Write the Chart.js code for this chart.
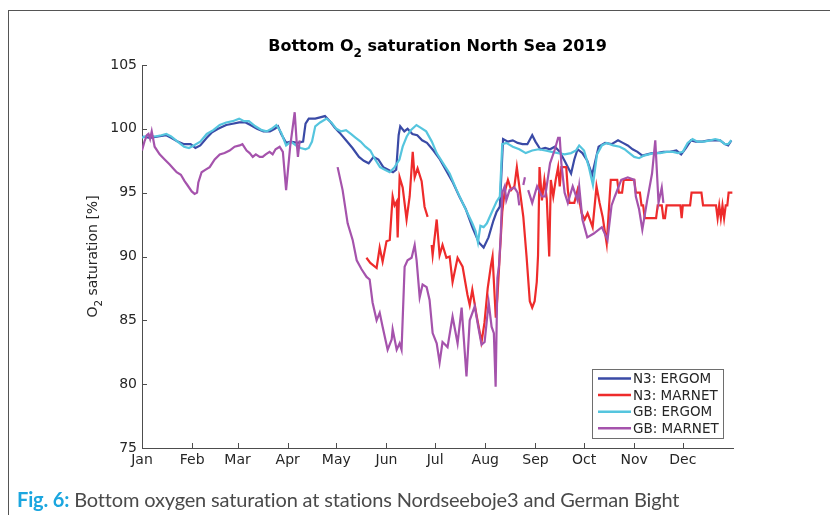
<!DOCTYPE html>
<html>
<head>
<meta charset="utf-8">
<script src="https://cdn.jsdelivr.net/npm/chart.js@4.4.1/dist/chart.umd.min.js"></script>
<style>
  html, body { margin: 0; padding: 0; background: #fff; }
  #wrap { position: relative; width: 830px; height: 515px; overflow: hidden; }
  #frame { position: absolute; left: 8px; top: 10px; width: 900px; height: 600px;
           border-left: 1.5px solid #555; border-top: 1.5px solid #555; }
  #chart { position: absolute; left: 0; top: 0; }
  #caption { position: absolute; left: 17px; top: 487px; font-family: "Lato", sans-serif;
             font-size: 20px; letter-spacing: -0.16px; color: #4a4a4a; white-space: nowrap; }
  #caption b { color: #1ba6df; font-weight: bold; }
</style>
</head>
<body>
<div id="wrap">
  <div id="frame"></div>
  <canvas id="chart" width="830" height="515"></canvas>
  <div id="caption"><b>Fig. 6:</b> Bottom oxygen saturation at stations Nordseeboje3 and German Bight</div>
</div>
<script>
// Month boundaries (day of year, 2019) and their axis labels
const monthStarts = [0, 31, 59, 90, 120, 151, 181, 212, 243, 273, 304, 334];
const monthLabels = ['Jan', 'Feb', 'Mar', 'Apr', 'May', 'Jun', 'Jul', 'Aug', 'Sep', 'Oct', 'Nov', 'Dec'];
const yTicks = [75, 80, 85, 90, 95, 100, 105];

// Bottom O2 saturation [%] as [day of year, value]; null marks a data gap
const n3Ergom = [
  [0,99.4],[5,99.3],[10,99.4],[15,99.5],[18,99.3],[22,99.0],[26,98.8],[30,98.8],[33,98.5],[36,98.7],
  [40,99.3],[43,99.7],[47,100.0],[52,100.3],[56,100.4],[60,100.5],[64,100.5],[67,100.3],[71,100.0],
  [75,99.8],[79,99.8],[82,100.0],[84,100.2],[86,99.6],[89,98.9],[92,99.0],[96,98.9],[99.5,99.0],
  [101,100.4],[103,100.8],[107,100.8],[110,100.9],[113,101.0],[116,100.6],[119,100.1],[122,99.7],
  [126,99.1],[130,98.5],[134,97.8],[137,97.5],[140,97.3],[143,97.8],[146,97.6],[149,97.0],[152,96.8],
  [155,96.6],[157,96.8],[158.5,99.5],[159.5,100.2],[162,99.8],[164,100.0],[167,99.6],[170,99.5],
  [173,99.1],[176,98.9],[180,98.3],[184,97.6],[188,96.7],[192,95.8],[196,94.7],[200,93.7],[204,92.3],
  [208,91.1],[211,90.7],[214,91.5],[217,92.8],[219,93.5],[221,93.9],[223,99.2],[226,99.0],[229,99.1],
  [232,98.9],[235,98.8],[238,98.8],[241,99.5],[243,99.0],[246,98.4],[249,98.5],[252,98.4],[255,98.6],
  [258,98.2],[261,97.5],[265,96.5],[267,97.6],[269,98.4],[272,98.1],[275,97.5],[278,96.4],[280,97.5],
  [282,98.6],[286,98.9],[290,98.8],[294,99.1],[297,98.9],[300,98.7],[303,98.4],[306,98.2],[309,97.9],
  [312,98.0],[315,98.1],[318,98.1],[322,98.2],[326,98.2],[330,98.3],[333,98.0],[336,98.5],[339,99.1],
  [342,99.0],[346,99.0],[350,99.1],[354,99.1],[357,99.1],[360,98.8],[362,98.7],[364,99.1]
];

const n3Marnet = [
  [138.6,89.9],[141,89.5],[144.9,89.1],[146.8,90.7],[148.6,89.6],[151,91.2],[153,91.3],[154.8,94.7],
  [156,94.0],[157.3,94.3],[157.9,91.5],[159.1,96.2],[161,95.4],[163.4,92.9],[165.3,94.7],[167.2,98.2],
  [168.4,96.2],[170.2,96.9],[172.7,95.9],[174.5,93.9],[176.4,93.1],[177.5,null],
  [178.9,90.9],[179.5,90.1],[182,92.9],[183.8,90.1],[185.6,90.9],[188,89.9],[190,90.0],[191.8,88.0],
  [194.9,89.9],[198,89.2],[201,87.0],[202.4,86.2],[204,87.4],[206.6,85.4],[209.7,83.3],[211.5,84.8],
  [213.5,87.5],[215.5,89.3],[216.5,90.0],[218.5,85.2],[219.5,86.8],[220.9,90.0],[222.5,93.5],[223.9,95.0],
  [226,96.0],[228,95.2],[230,95.5],[231.5,97.0],[232.5,96.0],[235.5,93.1],[237.5,90.0],[239.5,86.5],
  [241,86.0],[242.5,86.5],[243.8,88.0],[244.6,90.1],[245.5,97.0],[247,94.4],[248.5,96.0],[250,94.5],
  [251.5,90.0],[252.5,96.0],[254,94.7],[255.5,96.0],[257,97.0],[258,95.5],[259,97.0],[262,97.0],
  [263,95.2],[264,94.2],[267,94.2],[269,95.2],[271.5,93.4],[273.4,92.9],[275.2,93.4],[278.3,92.3],
  [280.7,95.5],[282.6,94.2],[284.5,93.1],[287,91.0],[289.5,96.0],[293.5,96.0],[294.5,95.0],[296.5,95.0],
  [297.5,96.0],[304,96.0],[305,95.0],[307.5,95.0],[308.5,94.0],[309.5,94.0],[310.5,93.0],[317.5,93.0],
  [318.5,94.0],[321,94.0],[322,93.0],[323,93.0],[324,94.0],[332.5,94.0],[333.3,93.0],[334,94.0],
  [338.5,94.0],[339.4,95.0],[345.5,95.0],[346.5,94.0],[354.5,94.0],[355.5,93.0],[356.5,94.0],
  [357.5,93.0],[358.5,94.0],[359.5,93.0],[360.5,94.0],[361.5,94.0],[362.3,95.0],[364.6,95.0]
];

const gbErgom = [
  [0,99.3],[4,99.5],[8,99.4],[12,99.5],[15,99.6],[18,99.4],[22,99.0],[26,98.6],[29,98.5],[32,98.7],
  [36,99.0],[40,99.6],[44,99.9],[48,100.3],[52,100.5],[56,100.6],[60,100.8],[63,100.6],[66,100.6],
  [70,100.2],[74,99.9],[77,99.8],[80,100.0],[83,100.3],[86,99.7],[89,98.7],[92,99.0],[95,98.7],
  [98,98.5],[101,98.4],[103,98.5],[105,99.0],[107,100.2],[110,100.5],[114,100.8],[117,100.5],
  [120,100.0],[123,99.8],[126,99.9],[129,99.6],[132,99.3],[135,99.0],[138,98.6],[141,98.3],[144,97.6],
  [147,97.0],[150,96.8],[153,96.6],[156,97.0],[159,97.6],[161,98.6],[163.5,99.4],[166,99.9],
  [169.5,100.3],[172,100.1],[175.5,99.8],[179,99.0],[182,98.1],[186,97.3],[190,96.5],[194,95.3],
  [198,94.2],[201,93.4],[204,92.6],[206,92.0],[207.5,91.1],[209,92.4],[211,92.3],[213,92.6],
  [216.5,93.6],[219,94.3],[221,94.7],[222.5,98.8],[225,98.9],[229,98.6],[233,98.4],[237,98.1],
  [241,98.3],[245,98.4],[249,98.3],[253,98.2],[257,98.1],[261,98.0],[265,98.1],[268,98.3],[270,98.7],
  [273,98.3],[276,97.0],[278.5,95.6],[281,98.0],[284,98.7],[287,98.9],[291,98.7],[295,98.6],
  [298,98.4],[301,98.1],[304,97.8],[307,97.7],[310,97.9],[313,98.0],[316,98.1],[320,98.1],[324,98.2],
  [328,98.2],[331,98.1],[334,98.2],[337,98.9],[340,99.2],[343,99.0],[347,99.0],[351,99.1],[354,99.2],
  [357,99.1],[360,98.8],[362,98.8],[364,99.1]
];

const gbMarnet = [
  [0,98.3],[1.5,99.0],[3,99.5],[4,99.6],[5,99.2],[6,99.8],[7.8,98.6],[10.9,98.0],[14,97.6],[17.1,97.2],
  [20,96.8],[21.4,96.6],[24,96.4],[26.3,95.9],[28,95.6],[30.7,95.1],[32.5,94.9],[34,95.0],[34.8,95.8],
  [36.8,96.6],[39.3,96.8],[41.8,97.0],[44.9,97.6],[48,98.0],[51,98.1],[54.1,98.3],[57.2,98.6],
  [60.3,98.7],[62,98.8],[64.6,98.3],[66.5,98.1],[68.4,97.8],[70.3,98.0],[72.7,97.8],[74.5,97.8],
  [76.4,98.0],[78.8,98.2],[80.7,98.0],[82.5,98.4],[85,98.6],[87,98.2],[89,95.2],[91.5,98.6],
  [94.3,101.3],[95.5,99.0],[96.3,97.8],[97.4,99.1],[100,null],
  [120.8,97.0],[123.9,95.2],[127,92.6],[130.1,91.3],[132.6,89.7],[135.6,89.0],[138.7,88.4],[140.6,88.2],
  [142.4,86.4],[144.9,85.0],[146.8,85.6],[148.6,84.5],[151.7,82.7],[154.2,83.5],[154.8,84.3],
  [157.3,82.7],[159.1,83.2],[160.3,82.7],[162.2,89.2],[164,89.7],[166.5,89.9],[168.4,90.9],
  [169.6,89.7],[171.5,86.8],[173.3,87.8],[175.8,87.6],[177.6,86.6],[179.5,84.0],[182,83.2],
  [183.8,81.7],[185.6,83.3],[188.7,82.9],[191.8,85.3],[194.9,83.2],[197.4,86.0],[200.4,80.6],
  [202.4,85.0],[205.5,86.1],[207.5,84.6],[209.7,83.1],[211.6,83.3],[214.1,86.4],[215.9,84.5],
  [217.3,84.0],[218.4,79.8],[219.5,88.3],[220.5,89.3],[221.5,91.5],[222.5,95.0],[224,95.5],
  [225,94.4],[227,95.2],[230,95.4],[232,95.0],[233,94.0],[234,null],[235.5,95.6],[236.5,96.2],
  [237.5,null],[238.5,95.2],[241,94.2],[244,95.5],[247,94.7],[249,94.7],[252,97.3],[255,98.4],
  [257,99.3],[258,99.3],[259,97.3],[261,95.0],[263,94.2],[266,95.5],[269,94.4],[270,95.5],[272,92.9],
  [275,91.5],[279,91.8],[284,92.3],[287.5,91.3],[290,94.0],[292,94.7],[296,96.0],[300,96.2],
  [304,96.0],[305,94.7],[307,93.7],[309,92.1],[312,94.4],[315,96.5],[317,99.1],[319,94.2],
  [321,95.4],[322,94.2]
];

const seriesNames = ['N3: ERGOM', 'N3: MARNET', 'GB: ERGOM', 'GB: MARNET'];
const seriesColors = ['#3a4aa6', '#ee2b2b', '#55c5de', '#a553ac'];
const seriesData = [n3Ergom, n3Marnet, gbErgom, gbMarnet];

const TEXT = '#262626';
const AXIS = '#4d4d4d';
const FONT = '"DejaVu Sans", sans-serif';

// Draws a run of text pieces where some pieces are lowered subscripts
function drawRich(ctx, parts, x, y, font, subFont, subShift) {
  ctx.textBaseline = 'alphabetic';
  ctx.textAlign = 'left';
  let w = 0;
  parts.forEach(p => { ctx.font = p.sub ? subFont : font; w += ctx.measureText(p.t).width; });
  let cx = x - w / 2;
  parts.forEach(p => {
    ctx.font = p.sub ? subFont : font;
    ctx.fillText(p.t, cx, y + (p.sub ? subShift : 0));
    cx += ctx.measureText(p.t).width;
  });
}

const titlePlugin = {
  id: 'titleAndAxisLabel',
  afterDraw(chart) {
    const { ctx, chartArea: a } = chart;
    ctx.save();
    ctx.fillStyle = '#000';
    drawRich(ctx, [{ t: 'Bottom O' }, { t: '2', sub: true }, { t: ' saturation North Sea 2019' }],
      (a.left + a.right) / 2, 51, 'bold 16px ' + FONT, 'bold 12px ' + FONT, 6);
    ctx.restore();

    ctx.save();
    ctx.fillStyle = TEXT;
    ctx.translate(97, (a.top + a.bottom) / 2);
    ctx.rotate(-Math.PI / 2);
    drawRich(ctx, [{ t: 'O' }, { t: '2', sub: true }, { t: ' saturation [%]' }],
      0, 0, '14px ' + FONT, '10.5px ' + FONT, 5);
    ctx.restore();
  }
};

// Inward-pointing tick marks on both axes
const tickMarks = {
  id: 'tickMarks',
  afterDraw(chart) {
    const { ctx, chartArea: a, scales: { x, y } } = chart;
    ctx.save();
    ctx.strokeStyle = AXIS;
    ctx.lineWidth = 1;
    ctx.beginPath();
    monthStarts.forEach(v => {
      const px = Math.round(x.getPixelForValue(v)) + 0.5;
      ctx.moveTo(px, a.bottom); ctx.lineTo(px, a.bottom - 5);
    });
    yTicks.forEach(v => {
      const py = Math.round(y.getPixelForValue(v)) + 0.5;
      ctx.moveTo(a.left, py); ctx.lineTo(a.left + 5, py);
    });
    ctx.stroke();
    ctx.restore();
  }
};

// Boxed legend in the lower right of the plot area
const boxLegend = {
  id: 'boxLegend',
  afterDraw(chart) {
    const { ctx } = chart;
    const x0 = 592, y0 = 369, w = 131, h = 69, row = 16.6;
    ctx.save();
    ctx.fillStyle = '#fff';
    ctx.fillRect(x0, y0, w, h);
    ctx.strokeStyle = '#6e6e6e';
    ctx.lineWidth = 1;
    ctx.strokeRect(x0 + 0.5, y0 + 0.5, w, h);
    ctx.font = '13.5px ' + FONT;
    ctx.textBaseline = 'middle';
    ctx.textAlign = 'left';
    chart.data.datasets.forEach((ds, i) => {
      const yy = y0 + 9.5 + i * row;
      ctx.strokeStyle = ds.borderColor;
      ctx.lineWidth = 2.5;
      ctx.beginPath();
      ctx.moveTo(x0 + 6, yy); ctx.lineTo(x0 + 39, yy);
      ctx.stroke();
      ctx.fillStyle = TEXT;
      ctx.fillText(ds.label, x0 + 41, yy + 1);
    });
    ctx.restore();
  }
};

const datasets = seriesData.map((arr, i) => ({
  label: seriesNames[i],
  data: arr.map(([d, v]) => ({ x: d, y: v })),
  borderColor: seriesColors[i],
  backgroundColor: seriesColors[i],
  borderWidth: 2.2,
  pointRadius: 0,
  tension: 0,
  spanGaps: false,
  order: seriesData.length - i
}));

new Chart(document.getElementById('chart'), {
  type: 'line',
  data: { datasets },
  options: {
    responsive: false,
    animation: false,
    devicePixelRatio: 1,
    layout: { padding: { left: 0, right: 97, top: 65, bottom: 0 } },
    plugins: { legend: { display: false }, tooltip: { enabled: false }, title: { display: false } },
    scales: {
      x: {
        type: 'linear', min: 0, max: 365,
        afterBuildTicks: s => { s.ticks = monthStarts.map(v => ({ value: v })); },
        afterFit: s => { s.height = 67; },
        ticks: {
          autoSkip: false, maxRotation: 0, padding: 4, color: TEXT,
          font: { family: FONT, size: 14 },
          callback: v => monthLabels[monthStarts.indexOf(v)]
        },
        grid: { display: false, drawTicks: false },
        border: { display: true, color: AXIS, width: 1 }
      },
      y: {
        min: 75, max: 105,
        afterBuildTicks: s => { s.ticks = yTicks.map(v => ({ value: v })); },
        afterFit: s => { s.width = 142; },
        ticks: { padding: 5, color: TEXT, font: { family: FONT, size: 14 } },
        grid: { display: false, drawTicks: false },
        border: { display: true, color: AXIS, width: 1 }
      }
    }
  },
  plugins: [tickMarks, titlePlugin, boxLegend]
});
</script>
</body>
</html>
